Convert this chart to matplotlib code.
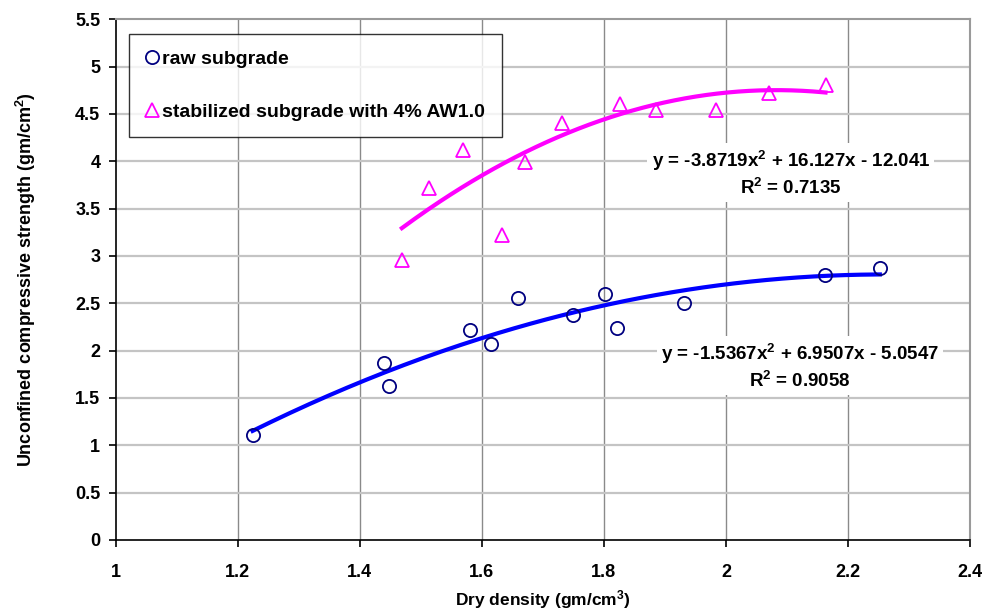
import numpy as np
import matplotlib
matplotlib.use("Agg")
import matplotlib.pyplot as plt

plt.rcParams['font.family'] = ['Liberation Sans', 'DejaVu Sans']
plt.rcParams['font.weight'] = 'bold'
plt.rcParams['mathtext.fontset'] = 'custom'
plt.rcParams['mathtext.rm'] = 'Liberation Sans:bold'
plt.rcParams['mathtext.bf'] = 'Liberation Sans:bold'
plt.rcParams['mathtext.default'] = 'bf'

# raw subgrade
raw_x = [1.2245, 1.440, 1.4476, 1.580, 1.6157, 1.660, 1.750, 1.801, 1.821, 1.931, 2.162, 2.252]
raw_y = [1.11, 1.87, 1.63, 2.22, 2.07, 2.56, 2.38, 2.60, 2.24, 2.50, 2.80, 2.87]
raw_coef = [-1.5367, 6.9507, -5.0547]

# stabilized subgrade
stab_x = [1.469, 1.514, 1.569, 1.633, 1.671, 1.731, 1.827, 1.886, 1.983, 2.071, 2.163]
stab_y = [2.96, 3.72, 4.12, 3.22, 3.99, 4.40, 4.61, 4.54, 4.54, 4.72, 4.81]
stab_coef = [-3.8719, 16.127, -12.041]

x_ticks = [1, 1.2, 1.4, 1.6, 1.8, 2, 2.2, 2.4]
y_ticks = [0, 0.5, 1, 1.5, 2, 2.5, 3, 3.5, 4, 4.5, 5, 5.5]

fig = plt.figure(figsize=(9.91, 6.13), dpi=100)
ax = fig.add_axes([0.1166, 0.1191, 0.8624, 0.8494])
ax.set_xlim(1, 2.4)
ax.set_ylim(0, 5.5)
ax.set_xticks(x_ticks)
ax.set_xticklabels([f"{v:g}" for v in x_ticks])
ax.set_yticks(y_ticks)
ax.set_yticklabels([f"{v:g}" for v in y_ticks])

for xv in x_ticks[1:-1]:
    ax.axvline(xv, color='#8a8a8a', lw=1.0, zorder=0)
for yv in y_ticks[1:-1]:
    ax.axhline(yv, color='#c4c4c4', lw=1.6, zorder=0)

for side in ['top', 'right']:
    ax.spines[side].set_color('#9a9a9a')
    ax.spines[side].set_linewidth(1.5)
for side in ['left', 'bottom']:
    ax.spines[side].set_color('black')
    ax.spines[side].set_linewidth(1.2)

ax.tick_params(axis='both', direction='out', length=5, width=1.2, labelsize=13, pad=6)
ax.tick_params(axis='x', pad=12)
for lab in ax.get_xticklabels() + ax.get_yticklabels():
    lab.set_fontweight('bold')

# trendlines
xr = np.linspace(min(raw_x), max(raw_x), 200)
ax.plot(xr, np.polyval(raw_coef, xr), color='#0000ff', lw=3, zorder=2)
xs = np.linspace(min(stab_x), max(stab_x), 200)
ax.plot(xs, np.polyval(stab_coef, xs), color='#ff00ff', lw=3, zorder=2)

# points
ax.plot(raw_x, raw_y, linestyle='none', marker='o', markersize=9.5, mfc='none',
        mec='#000080', mew=1.3, label='raw subgrade', zorder=3)
ax.plot(stab_x, stab_y, linestyle='none', marker='^', markersize=10, mfc='none',
        mec='#ff00ff', mew=1.3, label='stabilized subgrade with 4% AW1.0', zorder=3)

leg = ax.legend(loc='upper left', bbox_to_anchor=(0.016, 0.972), frameon=True, fancybox=False,
                edgecolor='black', fontsize=14, handlelength=0.6, handletextpad=0.25,
                labelspacing=1.8, borderpad=0.85, borderaxespad=0)
leg.get_frame().set_linewidth(1.0)
for t in leg.get_texts():
    t.set_fontweight('bold')

bbox = dict(facecolor='white', edgecolor='none', pad=3)
ax.text(2.106, 3.87, "y = -3.8719x$^{2}$ + 16.127x - 12.041\nR$^{2}$ = 0.7135", ha='center', va='center',
        fontsize=13.5, fontweight='bold', linespacing=1.3, bbox=bbox, zorder=4)
ax.text(2.121, 1.83, "y = -1.5367x$^{2}$ + 6.9507x - 5.0547\nR$^{2}$ = 0.9058", ha='center', va='center',
        fontsize=13.5, fontweight='bold', linespacing=1.3, bbox=bbox, zorder=4)

ax.set_xlabel("Dry density (gm/cm$^{3}$)", fontsize=12.5, fontweight='bold')
ax.xaxis.set_label_coords(0.5, -0.137)
ax.xaxis.label.set_va('bottom')
ax.set_ylabel("Unconfined compressive strength (gm/cm$^{2}$)", fontsize=13, fontweight='bold')
ax.yaxis.set_label_coords(-0.105, 0.5)
ax.yaxis.label.set_va('center')

fig.savefig("out.png", dpi=100)
